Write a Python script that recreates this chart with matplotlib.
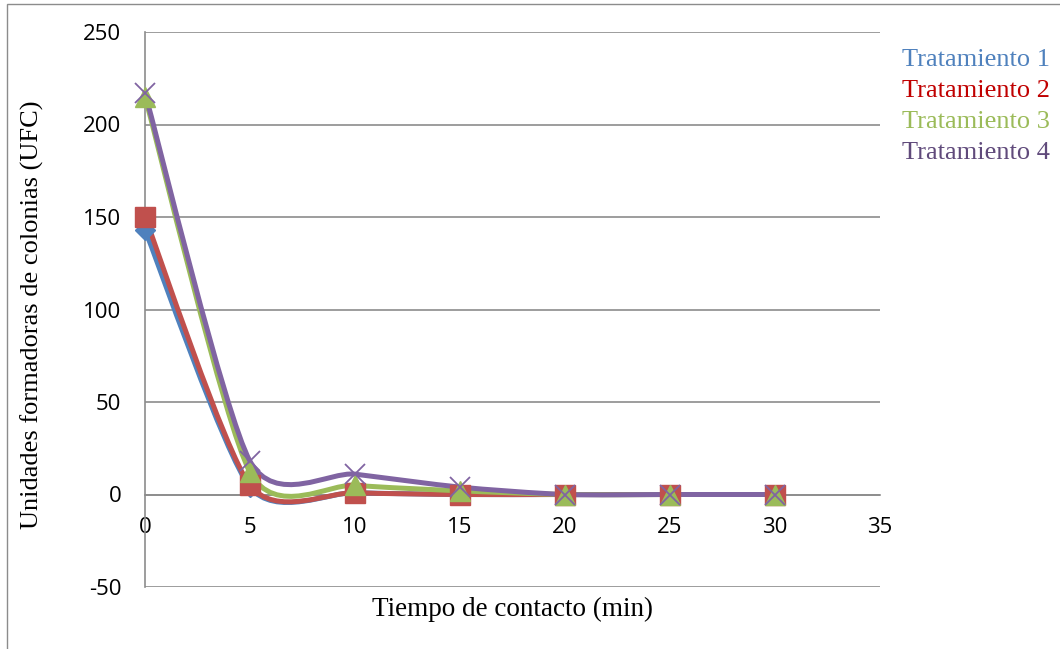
import numpy as np
import matplotlib
matplotlib.use("Agg")
import matplotlib.pyplot as plt
from matplotlib.path import Path
from matplotlib.patches import PathPatch, Rectangle

plt.rcParams["axes.unicode_minus"] = False

# data
tiempo = [0, 5, 10, 15, 20, 25, 30]
trat1 = [143, 4, 1, 0, 0, 0, 0]
trat2 = [150, 5, 1, 0, 0, 0, 0]
trat3 = [215, 12, 5, 2, 0, 0, 0]
trat4 = [217, 18, 11, 4, 0, 0, 0]

series_names = ["Tratamiento 1", "Tratamiento 2", "Tratamiento 3", "Tratamiento 4"]
line_colors = ["#4F81BD", "#C0504D", "#9BBB59", "#8064A2"]
text_colors = ["#4F81BD", "#C00000", "#9BBB59", "#604A7B"]
markers = ["D", "s", "^", "x"]


def smooth_path(xs, ys, k=0.12):
    # Excel style smoothed line: cubic bezier segments through the points
    pts = np.column_stack([xs, ys]).astype(float)
    n = len(pts)
    verts = [pts[0]]
    codes = [Path.MOVETO]
    for i in range(n - 1):
        p0 = pts[i - 1] if i > 0 else pts[i]
        p1 = pts[i]
        p2 = pts[i + 1]
        p3 = pts[i + 2] if i + 2 < n else pts[i + 1]
        c1 = p1 + (p2 - p0) * k
        c2 = p2 - (p3 - p1) * k
        verts += [c1, c2, p2]
        codes += [Path.CURVE4] * 3
    return Path(verts, codes)


fig = plt.figure(figsize=(10.6, 6.49), dpi=100)
ax = fig.add_axes([145 / 1060, 1 - 587 / 649, 735 / 1060, 555 / 649])

# outer chart border
fig.patches.append(Rectangle((7 / 1060, -0.1), 1.2, 1.1 - 4 / 649,
                             transform=fig.transFigure, fill=False,
                             edgecolor="#8C8C8C", linewidth=1.0))

grid_c = "#8C8C8C"
series = [trat1, trat2, trat3, trat4]
for vals, col in zip(series, line_colors):
    patch = PathPatch(smooth_path(tiempo, vals), facecolor="none",
                      edgecolor=col, linewidth=3.6, capstyle="round",
                      joinstyle="round", zorder=3, clip_on=False)
    ax.add_patch(patch)
for vals, col, mk in zip(series, line_colors, markers):
    if mk == "x":
        ax.plot(tiempo, vals, linestyle="none", marker=mk, markersize=14,
                markeredgewidth=1.3, color=col, zorder=4, clip_on=False)
    else:
        ax.plot(tiempo, vals, linestyle="none", marker=mk,
                markersize=14 if mk != "D" else 10,
                color=col, markeredgecolor=col, zorder=4, clip_on=False)

ax.set_xlim(0, 35)
ax.set_ylim(-50, 250)
ax.set_xticks(range(0, 36, 5))
ax.set_yticks(range(-50, 251, 50))

ax.grid(axis="y", color=grid_c, linewidth=1.2)
ax.set_axisbelow(True)
for s in ["top", "right"]:
    ax.spines[s].set_visible(False)
ax.spines["left"].set_color(grid_c)
ax.spines["left"].set_linewidth(1.2)
ax.spines["bottom"].set_position(("data", 0))
ax.spines["bottom"].set_color(grid_c)
ax.spines["bottom"].set_linewidth(1.2)

tick_font = "Open Sans"
ax.tick_params(axis="both", length=0, labelsize=16)
ax.tick_params(axis="y", pad=17)
ax.tick_params(axis="x", pad=16)
for lab in ax.get_xticklabels() + ax.get_yticklabels():
    lab.set_fontfamily(tick_font)

ax.text(0.5, -0.04, "Tiempo de contacto (min)", transform=ax.transAxes,
        ha="center", va="center", fontsize=19.5, family="Liberation Serif")
fig.text(32 / 1060, 1 - 315 / 649, "Unidades formadoras de colonias (UFC)",
         rotation=90, ha="center", va="center", fontsize=19,
         family="Liberation Serif")

for i, (name, tc) in enumerate(zip(series_names, text_colors)):
    fig.text(902 / 1060, 1 - (60 + i * 31) / 649, name, color=tc,
             ha="left", va="center", fontsize=19, family="Liberation Serif")

fig.savefig("out.png", dpi=100)
